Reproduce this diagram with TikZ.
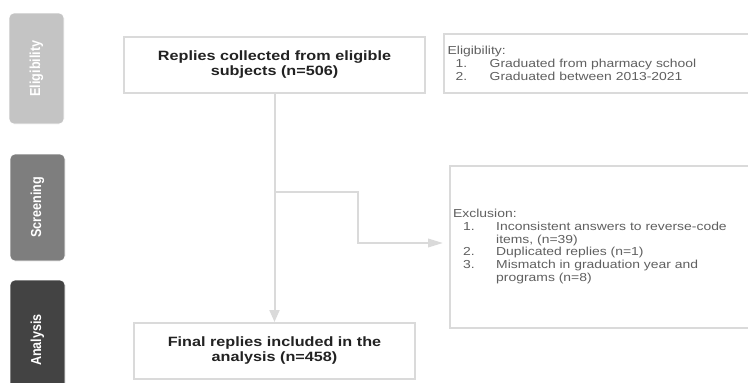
\documentclass[tikz,border=0pt]{standalone}
\usepackage{fontspec}
\setmainfont{Liberation Sans}[FakeStretch=1.2]
\newfontfamily\tabfont{Liberation Sans}
\usetikzlibrary{arrows.meta}
\definecolor{lineg}{HTML}{DADADA}
\definecolor{tabA}{HTML}{C4C4C4}
\definecolor{tabB}{HTML}{7E7E7E}
\definecolor{tabC}{HTML}{434343}
\definecolor{txtdark}{HTML}{222222}
\definecolor{txtgray}{HTML}{606060}
\newcommand{\elitem}[3]{\makebox[#1][l]{\hspace{#2}#3}}
\newcommand{\tablabel}[1]{\scalebox{1}[1.15]{#1}}
\tikzset{
  tab/.style={rounded corners=5pt, draw=white, line width=0.6pt, rotate=90,
    minimum height=55pt, inner sep=0pt, text=white,
    font=\tabfont\bfseries\fontsize{12.6}{14}\selectfont},
  mainbox/.style={draw=lineg, line width=2pt, fill=white, align=center, inner sep=0pt,
    text=txtdark, font=\bfseries\fontsize{13.5}{15}\selectfont},
  sidebox/.style={draw=lineg, line width=2pt, fill=white, inner sep=0pt},
  listtext/.style={anchor=west, align=left, inner sep=0pt, text=txtgray,
    font=\fontsize{11.6}{12.8}\selectfont},
  conn/.style={draw=lineg, line width=2pt},
}
\begin{document}
\begin{tikzpicture}[x=1pt,y=-1pt]
\useasboundingbox (0,0) rectangle (748,383);
\clip (0,0) rectangle (748,383);
% stage tabs
\node[tab, fill=tabA, minimum width=111pt] (tabel) at (36.5,68.5) {\tablabel{Eligibility}};
\node[tab, fill=tabB, minimum width=107pt] (tabsc) at (37.5,207.5) {\tablabel{Screening}};
\node[tab, fill=tabC, minimum width=120pt] (taban) at (37.5,340) {\tablabel{Analysis}};
% main boxes
\node[mainbox, minimum width=301pt, minimum height=56pt] (collected) at (274.5,65)
  {Replies collected from eligible\\subjects (n=506)};
\node[mainbox, minimum width=281pt, minimum height=56pt] (final) at (274.5,351)
  {Final replies included in the\\analysis (n=458)};
% side boxes
\node[sidebox, anchor=north west, minimum width=320pt, minimum height=59pt] (eligbox) at (443,33) {};
\node[sidebox, anchor=north west, minimum width=315pt, minimum height=162pt] (exclbox) at (449,165) {};
\node[listtext] (eligtext) at (447.5,63.5) {Eligibility:\\
  \elitem{42pt}{8pt}{1.}Graduated from pharmacy school\\
  \elitem{42pt}{8pt}{2.}Graduated between 2013-2021};
\node[listtext] (excltext) at (453,246.5) {Exclusion:\\
  \elitem{43pt}{10pt}{1.}Inconsistent answers to reverse-code\\
  \elitem{43pt}{10pt}{}items, (n=39)\\
  \elitem{43pt}{10pt}{2.}Duplicated replies (n=1)\\
  \elitem{43pt}{10pt}{3.}Mismatch in graduation year and\\
  \elitem{43pt}{10pt}{}programs (n=8)};
% connectors
\coordinate (split) at (collected.south |- 0,192);
\coordinate (bendA) at (358,192);
\coordinate (bendB) at (358,243);
\coordinate (arrowend) at (443,243);
\draw[conn, -{Triangle[length=12pt,width=10pt]}] (collected.south) -- (final.north);
\draw[conn, -{Triangle[length=15pt,width=8.5pt]}] (split) -- (bendA) -- (bendB) -- (arrowend);
\end{tikzpicture}
\end{document}
